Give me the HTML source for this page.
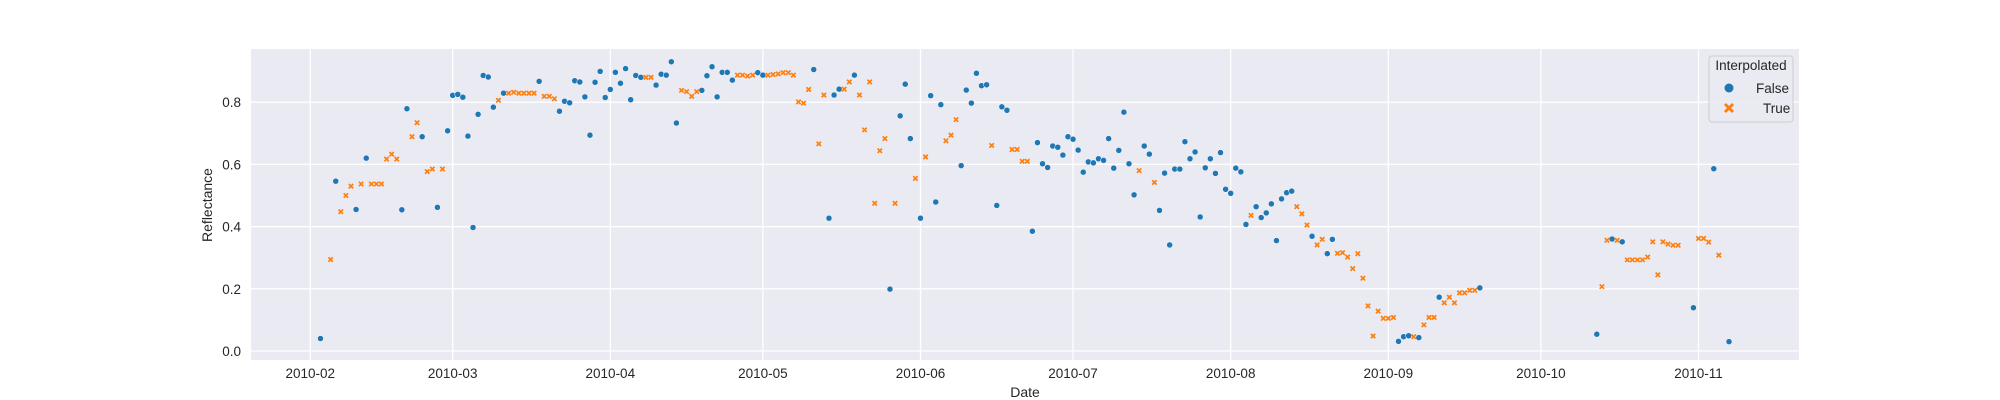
<!DOCTYPE html>
<html><head><meta charset="utf-8"><style>
html,body{margin:0;padding:0;background:#fff;}
svg{display:block;font-family:"Liberation Sans",Arial,sans-serif;}
</style></head><body>
<svg id="chart" width="2000" height="400" viewBox="0 0 2000 400" xmlns="http://www.w3.org/2000/svg">
<rect x="251" y="49" width="1548" height="311" fill="#eaeaf2"/>
<g id="grid"></g>
<g id="marks"></g>
<g id="ticks"></g>
<text x="1025" y="397" font-size="14" text-anchor="middle" fill="#262626">Date</text>
<text x="212" y="205" font-size="14" text-anchor="middle" fill="#262626" transform="rotate(-90 212 205)">Reflectance</text>
<g>
<rect x="1709" y="56" width="84" height="66" rx="3" fill="#eaeaf2" stroke="#cccccc" stroke-width="1" opacity="0.9"/>
<text x="1751" y="70" font-size="13.5" text-anchor="middle" fill="#262626">Interpolated</text>
<circle cx="1729" cy="88" r="4.5" fill="#1f77b4"/>
<text x="1756" y="93" font-size="13.5" fill="#262626">False</text>
<g transform="translate(1729,108)"><path d="M-4,-4L4,4M-4,4L4,-4" stroke="#ff7f0e" stroke-width="3"/></g>
<text x="1763" y="113" font-size="13.5" fill="#262626">True</text>
</g>
</svg>
<script>
// day offsets from 2010-02-01
const falseDays = [2,5,9,11,18,19,22,25,27,28,29,30,31,32,33,34,35,36,38,45,49,50,51,52,53,54,55,56,57,58,59,60,61,62,63,64,65,68,69,70,71,72,77,78,79,80,81,82,83,88,89,99,102,103,104,107,114,116,117,118,120,122,123,124,128,129,130,131,132,133,135,136,137,142,143,144,145,146,147,148,149,150,151,152,153,154,155,156,157,158,159,160,161,162,164,165,167,168,169,170,171,172,173,174,175,176,177,178,179,180,181,182,183,184,186,187,188,189,190,191,192,193,197,200,201,214,215,216,218,222,230,253,256,258,272,276,279];
const falseVals = [0.04,0.546,0.455,0.62,0.454,0.779,0.689,0.462,0.708,0.822,0.825,0.816,0.691,0.397,0.761,0.886,0.881,0.784,0.829,0.867,0.771,0.803,0.798,0.869,0.865,0.817,0.694,0.864,0.899,0.815,0.841,0.896,0.861,0.908,0.808,0.886,0.88,0.855,0.89,0.887,0.93,0.733,0.838,0.885,0.914,0.817,0.896,0.896,0.871,0.895,0.887,0.905,0.427,0.823,0.842,0.887,0.199,0.756,0.858,0.683,0.427,0.821,0.479,0.792,0.596,0.839,0.797,0.893,0.853,0.856,0.468,0.785,0.774,0.385,0.67,0.602,0.59,0.659,0.655,0.63,0.689,0.681,0.646,0.575,0.608,0.605,0.618,0.613,0.683,0.588,0.645,0.768,0.602,0.502,0.659,0.633,0.452,0.572,0.341,0.585,0.585,0.673,0.618,0.64,0.431,0.589,0.618,0.571,0.638,0.52,0.507,0.588,0.576,0.407,0.464,0.429,0.444,0.473,0.355,0.489,0.509,0.514,0.369,0.313,0.359,0.031,0.046,0.049,0.043,0.173,0.203,0.054,0.36,0.351,0.139,0.586,0.03];
const trueDays = [4,6,7,8,10,12,13,14,15,16,17,20,21,23,24,26,37,39,40,41,42,43,44,46,47,48,66,67,73,74,75,76,84,85,86,87,90,91,92,93,94,95,96,97,98,100,101,105,106,108,109,110,111,112,113,115,119,121,125,126,127,134,138,139,140,141,163,166,185,194,195,196,198,199,202,203,204,205,206,207,208,209,210,211,212,213,217,219,220,221,223,224,225,226,227,228,229,254,255,257,259,260,261,262,263,264,265,266,267,268,269,273,274,275,277];
const trueVals = [0.294,0.448,0.5,0.53,0.537,0.537,0.537,0.537,0.617,0.633,0.617,0.689,0.734,0.577,0.585,0.585,0.806,0.829,0.832,0.829,0.829,0.829,0.829,0.819,0.819,0.811,0.88,0.88,0.838,0.834,0.819,0.834,0.887,0.887,0.884,0.887,0.887,0.889,0.891,0.895,0.895,0.887,0.801,0.797,0.841,0.666,0.823,0.842,0.865,0.823,0.711,0.865,0.475,0.644,0.683,0.475,0.555,0.624,0.676,0.694,0.744,0.661,0.648,0.648,0.61,0.61,0.58,0.542,0.436,0.464,0.441,0.405,0.341,0.359,0.314,0.316,0.302,0.265,0.313,0.234,0.145,0.048,0.128,0.105,0.105,0.108,0.046,0.084,0.108,0.108,0.155,0.173,0.155,0.187,0.187,0.195,0.195,0.207,0.356,0.356,0.293,0.293,0.293,0.293,0.302,0.351,0.245,0.351,0.344,0.34,0.34,0.362,0.362,0.35,0.308];
const xTickDays = [0,28,59,89,120,150,181,212,242,273];
const xTickLabels = ["2010-02","2010-03","2010-04","2010-05","2010-06","2010-07","2010-08","2010-09","2010-10","2010-11"];
const yTicks = [0,0.2,0.4,0.6,0.8];
const yTickLabels = ["0.0","0.2","0.4","0.6","0.8"];

const X = d => 310.3 + d * 5.085;
const Y = v => 351 - v * 311;
const NS = "http://www.w3.org/2000/svg";
const grid = document.getElementById('grid');
const ticks = document.getElementById('ticks');
const marks = document.getElementById('marks');
function mk(tag, attrs, parent){const e=document.createElementNS(NS,tag);for(const k in attrs)e.setAttribute(k,attrs[k]);parent.appendChild(e);return e;}

xTickDays.forEach((d,i)=>{
  const g = mk('line',{x1:X(d),x2:X(d),y1:49,y2:360,stroke:'#fff','stroke-width':1.3},grid);
  
  
  const t = mk('text',{x:X(d),y:378,'font-size':13.5,'text-anchor':'middle',fill:'#262626'},ticks);
  t.textContent = xTickLabels[i];
  
  
});
yTicks.forEach((v,i)=>{
  const g = mk('line',{x1:251,x2:1799,y1:Y(v),y2:Y(v),stroke:'#fff','stroke-width':1.3},grid);
  
  
  const t = mk('text',{x:241,y:Y(v)+5,'font-size':13.5,'text-anchor':'end',fill:'#262626'},ticks);
  t.textContent = yTickLabels[i];
  
  
});
falseDays.forEach((d,i)=>{
  const c = mk('circle',{cx:X(d),cy:Y(falseVals[i]),r:3,fill:'#1f77b4',stroke:'#fff','stroke-width':0.5},marks);
  
  
});
trueDays.forEach((d,i)=>{
  const x=X(d), y=Y(trueVals[i]);
  const p = mk('path',{d:`M${x-2.2},${y-2.2}L${x+2.2},${y+2.2}M${x-2.2},${y+2.2}L${x+2.2},${y-2.2}`,stroke:'#ff7f0e','stroke-width':1.7},marks);
  
  
});
</script>
</body></html>
